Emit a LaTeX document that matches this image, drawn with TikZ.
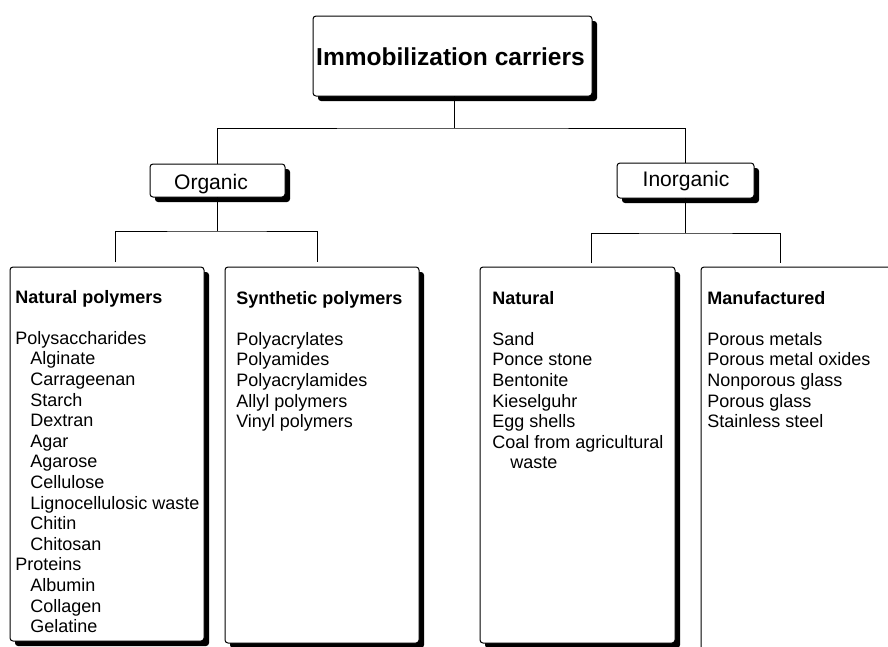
\documentclass[tikz,border=0pt]{standalone}
\usepackage{fontspec}
\setmainfont{Liberation Sans}
\usetikzlibrary{shadows}
\newcommand\myline[1]{\hbox{#1}}
\newcommand\myind[1]{\hbox{\hspace*{11.25pt}#1}}
\newcommand\mygap{\hbox{}}
\begin{document}
\begin{tikzpicture}[x=0.75pt,y=-0.75pt,
  cbox/.style={draw=black, line width=0.75pt, fill=white, rounded corners=2.25pt,
    inner sep=0pt, outer sep=0pt,
    drop shadow={shadow xshift=3.75pt, shadow yshift=-3.75pt, fill=black, opacity=1}},
  conn/.style={draw=black, line width=0.75pt},
  boxtext/.style={anchor=base west, inner sep=0pt, font=\fontsize{13.5}{15.45}\selectfont},
  headtext/.style={anchor=base, inner sep=0pt, font=\fontsize{15.8}{19}\selectfont},
  titletext/.style={anchor=base, inner sep=0pt, font=\bfseries\fontsize{18.4}{22}\selectfont}
]
\useasboundingbox (0,0) rectangle (888,646);
\clip (0,0) rectangle (888,646);
\fill[white] (0,0) rectangle (888,646);

% boxes
\node[cbox, minimum width=209.25pt, minimum height=60pt] (top) at (452.5,56) {};
\node[cbox, minimum width=101.25pt, minimum height=24.75pt] (org) at (217.5,180.5) {};
\node[cbox, minimum width=102.75pt, minimum height=26.25pt] (inorg) at (685.5,180.5) {};
\node[cbox, anchor=north west, minimum width=145.5pt, minimum height=280.5pt] (b1) at (10,267) {};
\node[cbox, anchor=north west, minimum width=145.5pt, minimum height=282pt] (b2) at (225,267) {};
\node[cbox, anchor=north west, minimum width=146.25pt, minimum height=282pt] (b3) at (480,267) {};
\node[cbox, anchor=north west, minimum width=187.5pt, minimum height=337.5pt] (b4) at (701,267) {};

% texts
\node[titletext] (toptext) at (450.5,65) {Immobilization carriers};
\node[headtext] (orgtext) at (211,189) {Organic};
\node[headtext] (inorgtext) at (686,186) {Inorganic};

\node[boxtext] (t1) at (15,303) {\vtop{%
  \myline{\bfseries Natural polymers}\mygap
  \myline{Polysaccharides}
  \myind{Alginate}\myind{Carrageenan}\myind{Starch}\myind{Dextran}
  \myind{Agar}\myind{Agarose}\myind{Cellulose}\myind{Lignocellulosic waste}
  \myind{Chitin}\myind{Chitosan}
  \myline{Proteins}
  \myind{Albumin}\myind{Collagen}\myind{Gelatine}}};

\node[boxtext] (t2) at (236,304) {\vtop{%
  \myline{\bfseries Synthetic polymers}\mygap
  \myline{Polyacrylates}\myline{Polyamides}\myline{Polyacrylamides}
  \myline{Allyl polymers}\myline{Vinyl polymers}}};

\node[boxtext] (t3) at (492,304) {\vtop{%
  \myline{\bfseries Natural}\mygap
  \myline{Sand}\myline{Ponce stone}\myline{Bentonite}\myline{Kieselguhr}
  \myline{Egg shells}\myline{Coal from agricultural}
  \hbox{\hspace*{13.5pt}waste}}};

\node[boxtext] (t4) at (707,304) {\vtop{%
  \myline{\bfseries Manufactured}\mygap
  \myline{Porous metals}\myline{Porous metal oxides}\myline{Nonporous glass}
  \myline{Porous glass}\myline{Stainless steel}}};

% connectors
\coordinate (j0) at (454,128);
\draw[conn] (top.south -| j0) -- (j0);
\draw[conn] (org.north) |- (j0) -| (inorg.north);

\coordinate (oj) at (217.5,231);
\coordinate (o1) at (115,262);
\coordinate (o2) at (317,262);
\draw[conn] (org.south) -- (oj);
\draw[conn] (o1) |- (oj) -| (o2);

\coordinate (ij) at (685.5,233);
\coordinate (i1) at (591,263);
\coordinate (i2) at (780,263);
\draw[conn] (inorg.south) -- (ij);
\draw[conn] (i1) |- (ij) -| (i2);
\end{tikzpicture}
\end{document}
